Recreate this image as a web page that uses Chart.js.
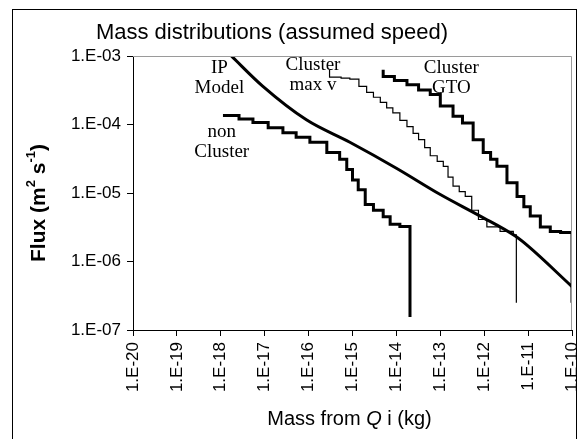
<!DOCTYPE html>
<html lang="en">
<head>
<meta charset="UTF-8">
<title>Mass distributions (assumed speed)</title>
<script src="https://cdn.jsdelivr.net/npm/chart.js"></script>
<style>
  body { margin: 0; background: #fff; }
  canvas { display: block; }
</style>
</head>
<body>
<canvas id="massChart" width="578" height="439"></canvas>
<script>
// axis ticks
const xTickValues = [1e-20, 1e-19, 1e-18, 1e-17, 1e-16, 1e-15, 1e-14, 1e-13, 1e-12, 1e-11, 1e-10];
const xTickLabels = ['1.E-20', '1.E-19', '1.E-18', '1.E-17', '1.E-16', '1.E-15', '1.E-14', '1.E-13', '1.E-12', '1.E-11', '1.E-10'];
const yTickValues = [1e-7, 1e-6, 1e-5, 1e-4, 1e-3];
const yTickLabels = ['1.E-07', '1.E-06', '1.E-05', '1.E-04', '1.E-03'];

// IP model (smooth)
const ipMass = [1.74e-18, 9.1e-18, 8.9e-17, 8.7e-16, 1e-14, 1e-13, 8.1e-13, 5.1e-12, 1.02e-11, 1e-10];
const ipFlux = [1.0e-3, 3.6e-4, 1.17e-4, 5.5e-5, 2.3e-5, 9.5e-6, 4.6e-6, 2.35e-6, 1.66e-6, 4.3e-7];

// non cluster
const nonMass = [1.12e-18, 2.6e-18, 5.4e-18, 1.2e-17, 2.6e-17, 5.2e-17, 1.07e-16, 2.6e-16, 5.1e-16, 7.4e-16, 1.0e-15, 1.35e-15, 1.95e-15, 3.0e-15, 5.0e-15, 7.2e-15, 1.2e-14, 2.04e-14, 2.04e-14];
const nonFlux = [1.35e-4, 1.2e-4, 1.07e-4, 9.0e-5, 7.6e-5, 6.5e-5, 5.5e-5, 3.9e-5, 3.1e-5, 2.2e-5, 1.55e-5, 1.12e-5, 6.8e-6, 5.6e-6, 4.5e-6, 3.5e-6, 3.25e-6, 3.2e-6, 1.55e-7];

// cluster, max v
const maxvMass = [3.0e-16, 3.0e-16, 5.5e-16, 8.7e-16, 1.4e-15, 2.1e-15, 3.0e-15, 4.3e-15, 6.0e-15, 8.3e-15, 1.2e-14, 1.74e-14, 2.4e-14, 3.2e-14, 4.4e-14, 5.9e-14, 8.5e-14, 1.17e-13, 1.5e-13, 1.95e-13, 2.7e-13, 3.7e-13, 5.2e-13, 7.4e-13, 1.15e-12, 2.3e-12, 4.6e-12, 5.4e-12, 5.4e-12];
const maxvFlux = [6.3e-4, 4.9e-4, 4.75e-4, 4.6e-4, 3.6e-4, 2.95e-4, 2.5e-4, 2.1e-4, 1.75e-4, 1.48e-4, 1.15e-4, 9.3e-5, 7.4e-5, 6.0e-5, 4.6e-5, 3.5e-5, 2.9e-5, 2.45e-5, 1.7e-5, 1.26e-5, 1.05e-5, 8.9e-6, 5.6e-6, 4.1e-6, 3.2e-6, 2.75e-6, 2.45e-6, 2.45e-6, 2.5e-7];

// cluster, GTO
const gtoMass = [5.0e-15, 5.0e-15, 9.0e-15, 1.74e-14, 3.2e-14, 5.9e-14, 1.0e-13, 1.95e-13, 3.2e-13, 5.6e-13, 9.5e-13, 1.4e-12, 1.95e-12, 3.3e-12, 5.6e-12, 8.0e-12, 1.12e-11, 1.9e-11, 3.2e-11, 5.5e-11, 1.0e-10, 1.0e-10];
const gtoFlux = [6.3e-4, 5.0e-4, 4.4e-4, 3.8e-4, 3.2e-4, 2.75e-4, 1.86e-4, 1.32e-4, 1.05e-4, 6.0e-5, 3.9e-5, 3.1e-5, 2.45e-5, 1.41e-5, 8.9e-6, 6.3e-6, 4.6e-6, 3.2e-6, 2.75e-6, 2.65e-6, 2.6e-6, 2.5e-7];

// series labels: text lines and anchor (mass, flux) of the block centre
const seriesLabels = [
  { lines: ['IP', 'Model'], mass: 9.3e-19, flux: 4.7e-4 },
  { lines: ['non', 'Cluster'], mass: 1.05e-18, flux: 5.6e-5 },
  { lines: ['Cluster', 'max v'], mass: 1.26e-16, flux: 5.2e-4 },
  { lines: ['Cluster', 'GTO'], mass: 1.78e-13, flux: 4.7e-4 }
];

const SANS = "'Liberation Sans', Arial, sans-serif";
const SERIF = "'Liberation Serif', 'Times New Roman', serif";

function pts(xs, ys) {
  return xs.map((x, i) => ({ x: x, y: ys[i] }));
}

// draw text made of pieces (superscript / italic)
function drawPieces(ctx, pieces, cx, cy, size, weight) {
  let total = 0;
  pieces.forEach(p => {
    const s = p.sup ? size * 0.62 : size;
    ctx.font = (p.italic ? 'italic ' : '') + weight + ' ' + s + 'px ' + SANS;
    p.w = ctx.measureText(p.t).width;
    total += p.w;
  });
  let x = cx - total / 2;
  ctx.textAlign = 'left';
  ctx.textBaseline = 'middle';
  pieces.forEach(p => {
    const s = p.sup ? size * 0.62 : size;
    ctx.font = (p.italic ? 'italic ' : '') + weight + ' ' + s + 'px ' + SANS;
    ctx.fillText(p.t, x, p.sup ? cy - size * 0.38 : cy);
    x += p.w;
  });
}

const decorPlugin = {
  id: 'decor',
  afterDraw(chart) {
    const ctx = chart.ctx;
    const a = chart.chartArea;
    ctx.save();
    // outer frame
    ctx.strokeStyle = '#000';
    ctx.lineWidth = 1;
    ctx.strokeRect(12.5, 9.5, 564, 440);
    // grey plot border top/right
    ctx.strokeStyle = '#9a9a9a';
    ctx.beginPath();
    ctx.moveTo(a.left, a.top + 0.5);
    ctx.lineTo(a.right - 0.5, a.top + 0.5);
    ctx.lineTo(a.right - 0.5, a.bottom);
    ctx.stroke();

    ctx.fillStyle = '#000';
    // chart title
    ctx.font = '22px ' + SANS;
    ctx.textAlign = 'center';
    ctx.textBaseline = 'middle';
    ctx.fillText('Mass distributions (assumed speed)', 272, 33);

    // x axis title
    drawPieces(ctx, [{ t: 'Mass from ' }, { t: 'Q', italic: true }, { t: ' i (kg)' }],
      (a.left + a.right) / 2 - 3, 419, 20, 'normal');

    // y axis title
    ctx.save();
    ctx.translate(39, (a.top + a.bottom) / 2 + 10);
    ctx.rotate(-Math.PI / 2);
    drawPieces(ctx, [{ t: 'Flux (m' }, { t: '2', sup: true }, { t: ' s' }, { t: '-1', sup: true }, { t: ')' }],
      0, 0, 21, 'bold');
    ctx.restore();

    // series labels
    const xs = chart.scales.x, ys = chart.scales.y;
    ctx.font = '19px ' + SERIF;
    ctx.textAlign = 'center';
    ctx.textBaseline = 'middle';
    seriesLabels.forEach(l => {
      const px = xs.getPixelForValue(l.mass);
      const py = ys.getPixelForValue(l.flux);
      const n = l.lines.length;
      l.lines.forEach((t, i) => {
        ctx.fillText(t, px, py + (i - (n - 1) / 2) * 20);
      });
    });
    ctx.restore();
  }
};

const tickFont = { family: SANS, size: 17 };

new Chart(document.getElementById('massChart'), {
  type: 'line',
  data: {
    datasets: [
      { label: 'IP Model', data: pts(ipMass, ipFlux), borderWidth: 3, cubicInterpolationMode: 'monotone' },
      { label: 'non Cluster', data: pts(nonMass, nonFlux), borderWidth: 3, stepped: true },
      { label: 'Cluster max v', data: pts(maxvMass, maxvFlux), borderWidth: 1.2, stepped: true },
      { label: 'Cluster GTO', data: pts(gtoMass, gtoFlux), borderWidth: 3, stepped: true }
    ].map(d => Object.assign({ borderColor: '#000', pointRadius: 0, fill: false }, d))
  },
  options: {
    responsive: false,
    animation: false,
    devicePixelRatio: 1,
    layout: { padding: { left: 0, right: 6, top: 56, bottom: 0 } },
    plugins: { legend: { display: false }, tooltip: { enabled: false } },
    scales: {
      x: {
        type: 'logarithmic',
        min: 1e-20,
        max: 1e-10,
        afterBuildTicks: s => { s.ticks = xTickValues.map(v => ({ value: v })); },
        afterFit: s => { s.height = 109; s.paddingLeft = 0; s.paddingRight = 0; },
        ticks: {
          autoSkip: false,
          minRotation: 90,
          maxRotation: 90,
          color: '#000',
          font: tickFont,
          padding: 6,
          callback: (v, i) => xTickLabels[i]
        },
        grid: { drawOnChartArea: false, tickLength: 6, color: '#000' },
        border: { color: '#000', width: 1 }
      },
      y: {
        type: 'logarithmic',
        min: 1e-7,
        max: 1e-3,
        afterBuildTicks: s => { s.ticks = yTickValues.map(v => ({ value: v })); },
        afterFit: s => { s.width = 133; s.paddingTop = 0; s.paddingBottom = 0; },
        ticks: {
          color: '#000',
          font: tickFont,
          padding: 6,
          callback: (v, i) => yTickLabels[i]
        },
        grid: { drawOnChartArea: false, tickLength: 6, color: '#000' },
        border: { color: '#000', width: 1 }
      }
    }
  },
  plugins: [decorPlugin]
});
</script>
</body>
</html>
